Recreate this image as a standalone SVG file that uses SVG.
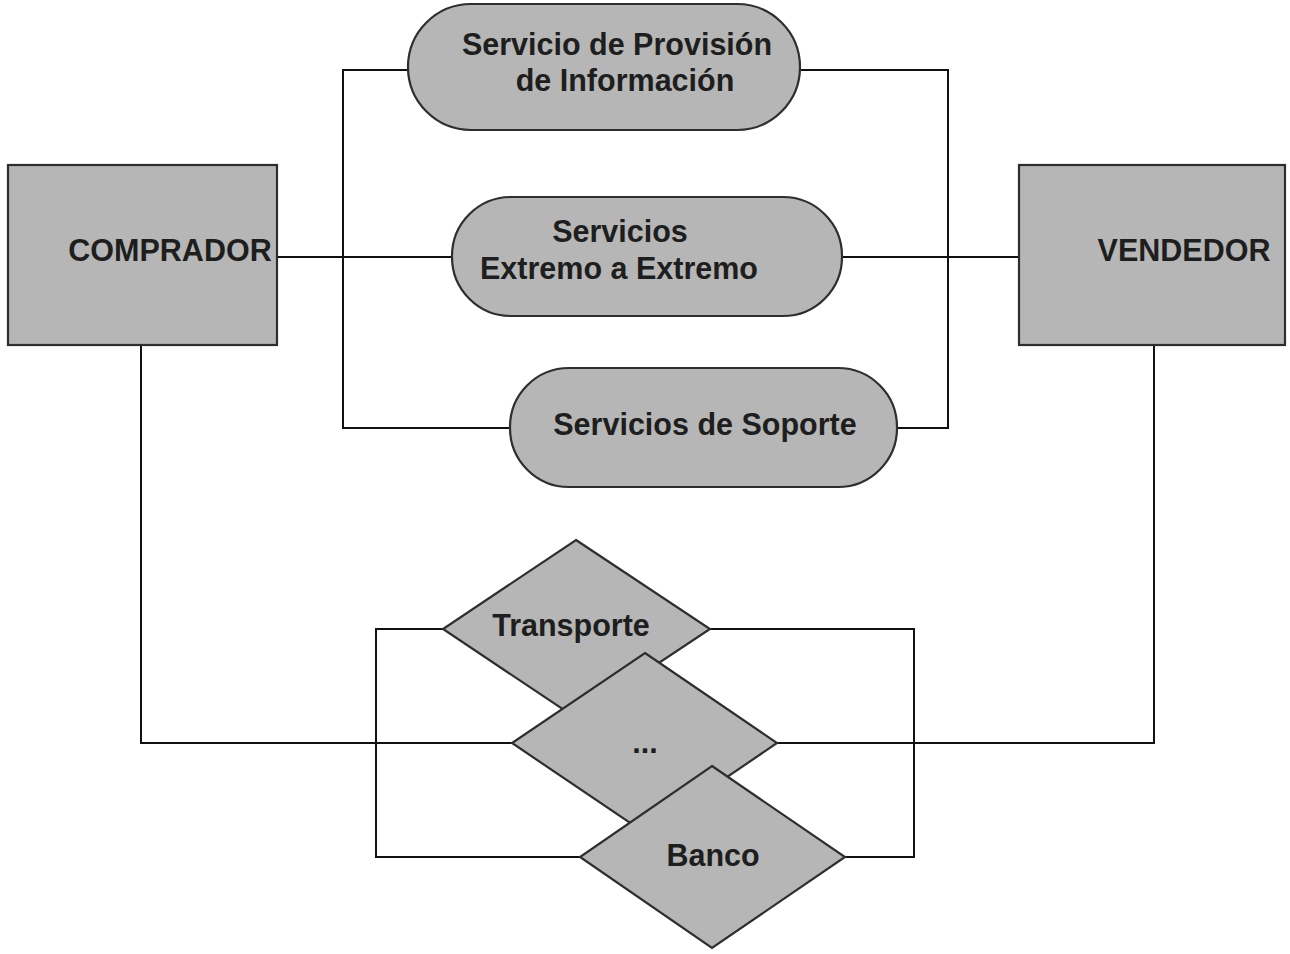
<svg xmlns="http://www.w3.org/2000/svg" width="1290" height="954" viewBox="0 0 1290 954">
  <style>
    .shape { fill: #b6b6b6; stroke: #2e2e2e; stroke-width: 2.2; }
    .wire { fill: none; stroke: #111; stroke-width: 2; }
    .label { font-family: "Liberation Sans", Arial, Helvetica, sans-serif; font-weight: bold; font-size: 30.5px; fill: #1e1e1e; text-anchor: middle; }
  </style>
  <rect width="1290" height="954" fill="#ffffff"/>

  <!-- connectors -->
  <g id="connectors" class="wire">
    <!-- upper service bus -->
    <polyline points="408,70 343,70 343,428 510,428"/>
    <polyline points="800,70 948,70 948,428 897,428"/>
    <line x1="277" y1="257" x2="452" y2="257"/>
    <line x1="842" y1="257" x2="1019" y2="257"/>
    <!-- lower intermediary bus -->
    <polyline points="443,629 376,629 376,857 580,857"/>
    <polyline points="710,629 914,629 914,857 845,857"/>
    <polyline points="141,345 141,743 512,743"/>
    <polyline points="1154,345 1154,743 777,743"/>
  </g>

  <!-- services -->
  <g id="provision-informacion">
    <rect class="shape" x="408" y="4" width="392" height="126" rx="63" ry="63"/>
    <text class="label" x="617" y="55">Servicio de Provisión</text>
    <text class="label" x="625" y="91">de Información</text>
  </g>
  <g id="extremo-a-extremo">
    <rect class="shape" x="452" y="197" width="390" height="119" rx="59" ry="59"/>
    <text class="label" x="620" y="242">Servicios</text>
    <text class="label" x="619" y="279">Extremo a Extremo</text>
  </g>
  <g id="soporte">
    <rect class="shape" x="510" y="368" width="387" height="119" rx="59" ry="59"/>
    <text class="label" x="705" y="435">Servicios de Soporte</text>
  </g>

  <!-- parties -->
  <g id="comprador">
    <rect class="shape" x="8" y="165" width="269" height="180"/>
    <text class="label" x="170" y="261">COMPRADOR</text>
  </g>
  <g id="vendedor">
    <rect class="shape" x="1019" y="165" width="266" height="180"/>
    <text class="label" x="1184" y="261">VENDEDOR</text>
  </g>

  <!-- intermediaries -->
  <g id="transporte">
    <polygon class="shape" points="576,540 710,629 576,718 443,629"/>
    <text class="label" x="571" y="636">Transporte</text>
  </g>
  <g id="otros">
    <polygon class="shape" points="645,653 777,743 645,833 512,743"/>
    <text class="label" x="645" y="753">...</text>
  </g>
  <g id="banco">
    <polygon class="shape" points="712,766 845,857 712,948 580,857"/>
    <text class="label" x="713" y="866">Banco</text>
  </g>
</svg>
